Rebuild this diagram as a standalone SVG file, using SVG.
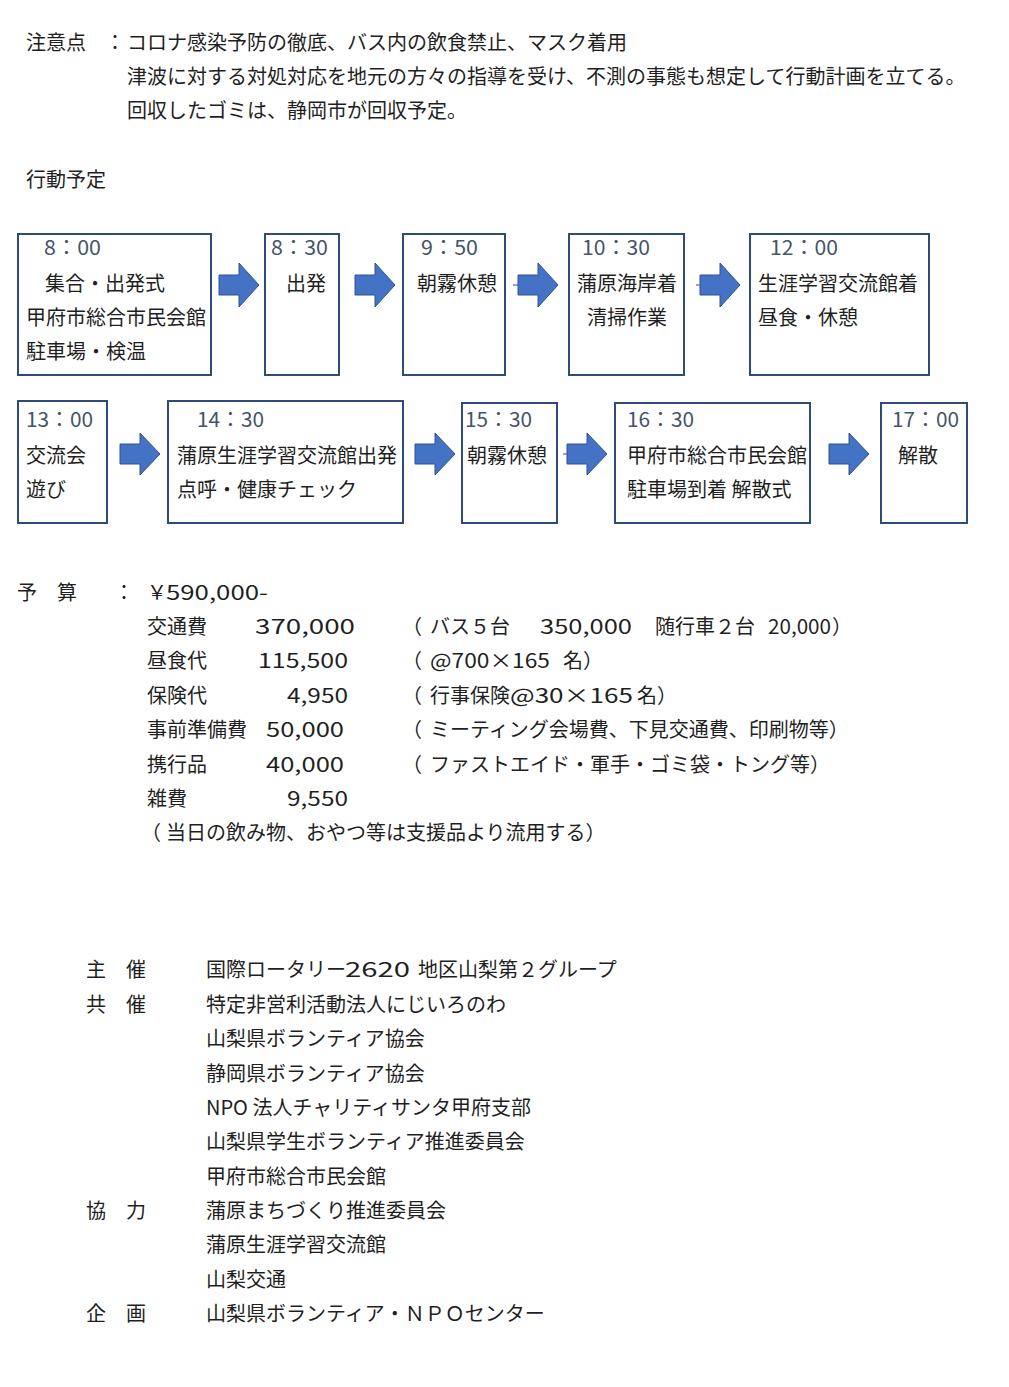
<svg xmlns="http://www.w3.org/2000/svg" width="1009" height="1387" viewBox="0 0 1009 1387">
<style>
text{font-family:"Noto Sans CJK JP","Noto Sans",sans-serif;font-size:20px;fill:#1f1f1f;}
.t{fill:#44546a;}
.box{fill:#ffffff;stroke:#2f4b7c;stroke-width:2;}
.arrow{fill:#4472c4;stroke:#2f528f;stroke-width:1;}
.tick{stroke:#2f528f;stroke-width:1;}
</style>
<rect width="1009" height="1387" fill="#ffffff"/>
<g id="notes">
<text x="26" y="50">注意点</text>
<text x="105" y="50">：</text>
<text x="127" y="50">コロナ感染予防の徹底、バス内の飲食禁止、マスク着用</text>
<text x="127" y="84">津波に対する対処対応を地元の方々の指導を受け、不測の事態も想定して行動計画を立てる。</text>
<text x="127" y="118">回収したゴミは、静岡市が回収予定。</text>
<text x="26" y="187">行動予定</text>
</g>
<g id="connectors">
<path class="arrow" d="M219,275 H239 V263 L259,285 L239,307 V295 H219 Z"/>
<path class="arrow" d="M355,275 H375 V263 L395,285 L375,307 V295 H355 Z"/>
<line class="tick" x1="513" y1="285" x2="518" y2="285"/>
<path class="arrow" d="M518,275 H538 V263 L558,285 L538,307 V295 H518 Z"/>
<line class="tick" x1="696" y1="285" x2="700" y2="285"/>
<path class="arrow" d="M700,275 H720 V263 L740,285 L720,307 V295 H700 Z"/>
<path class="arrow" d="M120,444 H140 V433 L160,454 L140,475 V464 H120 Z"/>
<path class="arrow" d="M415,444 H435 V433 L455,454 L435,475 V464 H415 Z"/>
<line class="tick" x1="563" y1="454" x2="567" y2="454"/>
<path class="arrow" d="M567,444 H587 V433 L607,454 L587,475 V464 H567 Z"/>
<path class="arrow" d="M829,444 H849 V433 L869,454 L849,475 V464 H829 Z"/>
</g>
<g id="n800">
<rect class="box" x="18" y="234" width="193" height="141"/>
<text class="t" x="44" y="255" textLength="57" lengthAdjust="spacingAndGlyphs">8：00</text>
<text x="45" y="291">集合・出発式</text>
<text x="26" y="325">甲府市総合市民会館</text>
<text x="26" y="359">駐車場・検温</text>
</g>
<g id="n830">
<rect class="box" x="265" y="234" width="74" height="141"/>
<text class="t" x="271" y="255" textLength="57" lengthAdjust="spacingAndGlyphs">8：30</text>
<text x="286" y="291">出発</text>
</g>
<g id="n950">
<rect class="box" x="403" y="234" width="102" height="141"/>
<text class="t" x="421" y="255" textLength="57" lengthAdjust="spacingAndGlyphs">9：50</text>
<text x="417" y="291">朝霧休憩</text>
</g>
<g id="n1030">
<rect class="box" x="569" y="234" width="115" height="141"/>
<text class="t" x="582" y="255" textLength="68" lengthAdjust="spacingAndGlyphs">10：30</text>
<text x="577" y="291">蒲原海岸着</text>
<text x="587" y="325">清掃作業</text>
</g>
<g id="n1200">
<rect class="box" x="750" y="234" width="179" height="141"/>
<text class="t" x="770" y="255" textLength="68" lengthAdjust="spacingAndGlyphs">12：00</text>
<text x="758" y="291">生涯学習交流館着</text>
<text x="758" y="325">昼食・休憩</text>
</g>
<g id="n1300">
<rect class="box" x="18" y="401" width="89" height="122"/>
<text class="t" x="26" y="427" textLength="67" lengthAdjust="spacingAndGlyphs">13：00</text>
<text x="26" y="463">交流会</text>
<text x="26" y="497">遊び</text>
</g>
<g id="n1430">
<rect class="box" x="168" y="401" width="235" height="122"/>
<text class="t" x="197" y="427" textLength="67" lengthAdjust="spacingAndGlyphs">14：30</text>
<text x="177" y="463">蒲原生涯学習交流館出発</text>
<text x="177" y="497">点呼・健康チェック</text>
</g>
<g id="n1530">
<rect class="box" x="462" y="403" width="95" height="120"/>
<text class="t" x="465" y="427" textLength="67" lengthAdjust="spacingAndGlyphs">15：30</text>
<text x="467" y="463">朝霧休憩</text>
</g>
<g id="n1630">
<rect class="box" x="615" y="403" width="195" height="120"/>
<text class="t" x="627" y="427" textLength="67" lengthAdjust="spacingAndGlyphs">16：30</text>
<text x="627" y="463">甲府市総合市民会館</text>
<text x="627" y="497">駐車場到着 解散式</text>
</g>
<g id="n1700">
<rect class="box" x="881" y="403" width="86" height="120"/>
<text class="t" x="892" y="427" textLength="67" lengthAdjust="spacingAndGlyphs">17：00</text>
<text x="898" y="463">解散</text>
</g>
<g id="budget">
<text x="17" y="600">予　算</text>
<text x="114" y="600">：</text>
<text x="147" y="600">￥</text>
<text x="166" y="600" textLength="102" lengthAdjust="spacingAndGlyphs">590,000-</text>
<text x="147" y="634">交通費</text>
<text x="255" y="634" textLength="100" lengthAdjust="spacingAndGlyphs">370,000</text>
<text x="402" y="634">（</text>
<text x="430" y="634">バス５台</text>
<text x="540" y="634" textLength="92" lengthAdjust="spacingAndGlyphs">350,000</text>
<text x="655" y="634">随行車２台</text>
<text x="768" y="634" textLength="63" lengthAdjust="spacingAndGlyphs">20,000</text>
<text x="832" y="634">）</text>
<text x="147" y="668">昼食代</text>
<text x="258" y="668" textLength="90" lengthAdjust="spacingAndGlyphs">115,500</text>
<text x="402" y="668">（</text>
<text x="430" y="668" textLength="120" lengthAdjust="spacingAndGlyphs">@700×165</text>
<text x="563" y="668">名）</text>
<text x="147" y="703">保険代</text>
<text x="287" y="703" textLength="61" lengthAdjust="spacingAndGlyphs">4,950</text>
<text x="402" y="703">（</text>
<text x="430" y="703">行事保険</text>
<text x="510" y="703" textLength="123" lengthAdjust="spacingAndGlyphs">@30×165</text>
<text x="637" y="703">名）</text>
<text x="147" y="737">事前準備費</text>
<text x="266" y="737" textLength="78" lengthAdjust="spacingAndGlyphs">50,000</text>
<text x="402" y="737">（</text>
<text x="430" y="737">ミーティング会場費、下見交通費、印刷物等）</text>
<text x="147" y="772">携行品</text>
<text x="266" y="772" textLength="78" lengthAdjust="spacingAndGlyphs">40,000</text>
<text x="402" y="772">（</text>
<text x="430" y="772">ファストエイド・軍手・ゴミ袋・トング等）</text>
<text x="147" y="806">雑費</text>
<text x="287" y="806" textLength="61" lengthAdjust="spacingAndGlyphs">9,550</text>
<text x="141" y="840">（</text>
<text x="166" y="840">当日の飲み物、おやつ等は支援品より流用する）</text>
</g>
<g id="organizers">
<text x="86" y="977">主　催</text>
<text x="206" y="977">国際ロータリー</text>
<text x="345" y="977" textLength="65" lengthAdjust="spacingAndGlyphs">2620</text>
<text x="418" y="977">地区山梨第２グループ</text>
<text x="86" y="1012">共　催</text>
<text x="206" y="1012">特定非営利活動法人にじいろのわ</text>
<text x="206" y="1046">山梨県ボランティア協会</text>
<text x="206" y="1081">静岡県ボランティア協会</text>
<text x="206" y="1115">NPO 法人チャリティサンタ甲府支部</text>
<text x="206" y="1149">山梨県学生ボランティア推進委員会</text>
<text x="206" y="1184">甲府市総合市民会館</text>
<text x="86" y="1218">協　力</text>
<text x="206" y="1218">蒲原まちづくり推進委員会</text>
<text x="206" y="1252">蒲原生涯学習交流館</text>
<text x="206" y="1287">山梨交通</text>
<text x="86" y="1321">企　画</text>
<text x="206" y="1321">山梨県ボランティア・ＮＰＯセンター</text>
</g>
</svg>
